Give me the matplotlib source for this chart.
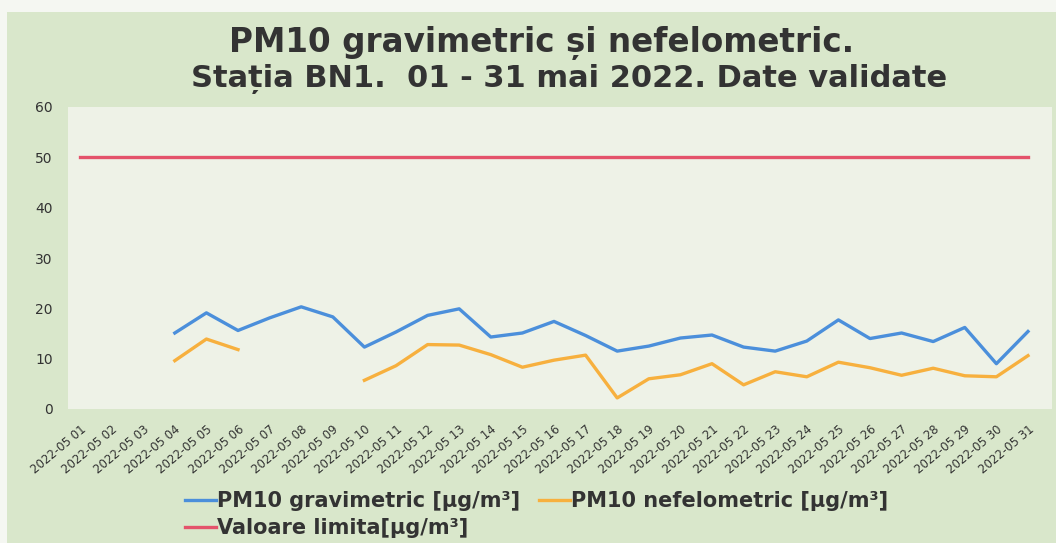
import matplotlib
matplotlib.use("Agg")
import matplotlib.pyplot as plt
import numpy as np
from matplotlib.patches import Rectangle

plt.rcParams['font.family'] = ['DejaVu Sans']

days = [f"2022-05 {d:02d}" for d in range(1, 32)]

# PM10 gravimetric (None = no data)
gravimetric = [None, None, None, 15.1, 19.1, 15.6, 18.1, 20.3, 18.3, 12.3,
               15.3, 18.6, 19.9, 14.3, 15.1, 17.4, 14.6, 11.5, 12.5, 14.1,
               14.7, 12.3, 11.5, 13.5, 17.7, 14.0, 15.1, 13.4, 16.2, 9.0, 15.4]

# PM10 nefelometric
nefelometric = [None, None, None, 9.6, 13.9, 11.8, None, None, None, 5.7,
                8.6, 12.8, 12.7, 10.8, 8.3, 9.7, 10.7, 2.2, 6.0, 6.8,
                9.0, 4.8, 7.4, 6.4, 9.3, 8.2, 6.7, 8.1, 6.6, 6.4, 10.6]

limit = [50] * 31

title_lines = ["PM10 gravimetric și nefelometric.",
               "Stația BN1.  01 - 31 mai 2022. Date validate"]

bg_outer = '#d9e7cb'
bg_plot = '#eef2e7'
text_col = '#333333'

fig = plt.figure(figsize=(10.56, 5.43), dpi=100)
fig.patch.set_facecolor(bg_outer)

# scanned page margin (white strip on top and left)
fig.patches.append(Rectangle((0, 1 - 12 / 543), 1, 12 / 543, transform=fig.transFigure,
                             facecolor='#f5f7f2', edgecolor='none', zorder=0))
fig.patches.append(Rectangle((0, 0), 7 / 1056, 1, transform=fig.transFigure,
                             facecolor='#f5f7f2', edgecolor='none', zorder=0))

ax = fig.add_axes([68 / 1056, 1 - 409 / 543, (1052 - 68) / 1056, (409 - 107) / 543])
ax.set_facecolor(bg_plot)

x = np.arange(len(days))
g = np.array([np.nan if v is None else v for v in gravimetric], dtype=float)
n = np.array([np.nan if v is None else v for v in nefelometric], dtype=float)

l_g, = ax.plot(x, g, color='#4b8fdb', lw=2.4, solid_joinstyle='round',
               label='PM10 gravimetric [µg/m³]')
l_n, = ax.plot(x, n, color='#f7b03e', lw=2.4, solid_joinstyle='round',
               label='PM10 nefelometric [µg/m³]')
l_l, = ax.plot(x, limit, color='#e4536b', lw=2.4,
               label='Valoare limita[µg/m³]')

ax.set_ylim(0, 60)
ax.set_yticks(range(0, 61, 10))
ax.set_xlim(-0.38, 30.76)
ax.set_xticks(x)
ax.set_xticklabels(days, rotation=40, ha='right', rotation_mode='anchor',
                   fontsize=8.5, color=text_col)
ax.tick_params(axis='y', labelsize=10, labelcolor=text_col, length=0, pad=11)
ax.tick_params(axis='x', length=0, pad=10)
for s in ax.spines.values():
    s.set_visible(False)

fig.text(0.513, 0.921, title_lines[0], ha='center', va='center',
         fontsize=23.5, fontweight='bold', color=text_col)
fig.text(0.539, 0.855, title_lines[1], ha='center', va='center',
         fontsize=22, fontweight='bold', color=text_col)

leg = fig.legend(handles=[l_g, l_l, l_n], ncol=2, loc='center',
                 bbox_to_anchor=(0.508, 0.052), frameon=False,
                 prop={'weight': 'bold', 'size': 15}, handlelength=1.5,
                 handletextpad=0.05, columnspacing=0.9, labelspacing=0.35)
for t in leg.get_texts():
    t.set_color(text_col)

fig.savefig("out.png", dpi=100, facecolor=fig.get_facecolor())
